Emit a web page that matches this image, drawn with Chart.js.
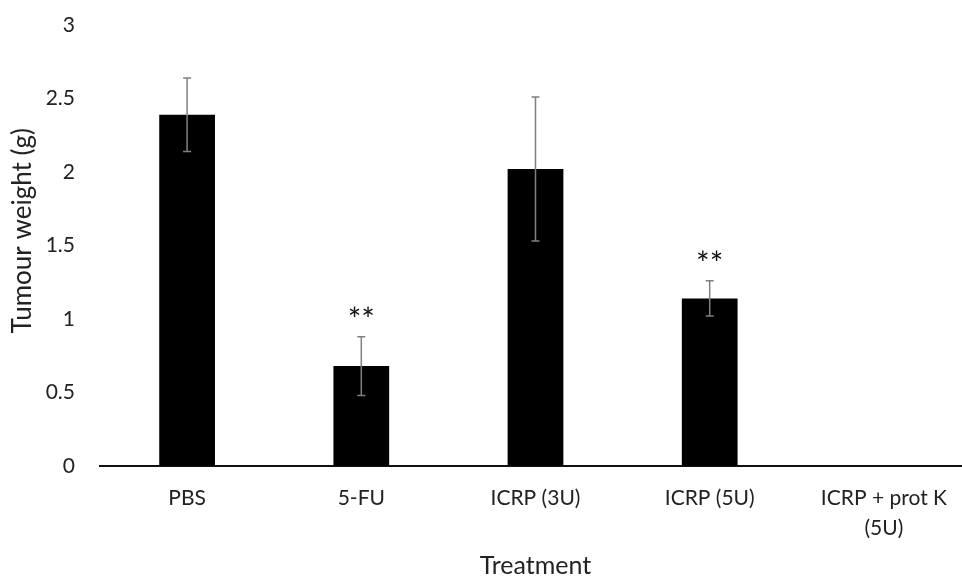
<!DOCTYPE html>
<html>
<head>
<meta charset="utf-8">
<script src="https://cdn.jsdelivr.net/npm/chart.js@4"></script>
<style>
  html, body { margin: 0; padding: 0; background: #fff; overflow: hidden; }
  #wrap { width: 962px; height: 576px; overflow: hidden; }
</style>
</head>
<body>
<div id="wrap"><canvas id="myChart" width="976" height="576"></canvas></div>
<script>
// data
var treatments = ["PBS", "5-FU", "ICRP (3U)", "ICRP (5U)", ["ICRP + prot K", "(5U)"]];
var weights = [2.39, 0.68, 2.02, 1.14, 0];
var errors = [0.25, 0.2, 0.49, 0.12, 0];
var stars = ["", "**", "", "**", ""];
var yTicks = [0, 0.5, 1, 1.5, 2, 2.5, 3];
var yTitle = "Tumour weight (g)";

// error bars, significance marks, y title
var errorBars = {
  id: "errorBars",
  afterDatasetsDraw: function (chart) {
    var ctx = chart.ctx;
    var x = chart.scales.x;
    var y = chart.scales.y;
    ctx.save();
    for (var i = 0; i < weights.length; i++) {
      if (!errors[i]) continue;
      var cx = x.getPixelForValue(i);
      var top = y.getPixelForValue(weights[i] + errors[i]);
      var bot = y.getPixelForValue(weights[i] - errors[i]);
      ctx.strokeStyle = "#808080";
      ctx.lineWidth = 1.5;
      ctx.beginPath();
      ctx.moveTo(cx, top); ctx.lineTo(cx, bot);
      ctx.moveTo(cx - 4, top); ctx.lineTo(cx + 4, top);
      ctx.moveTo(cx - 4, bot); ctx.lineTo(cx + 4, bot);
      ctx.stroke();
      if (stars[i]) {
        ctx.fillStyle = "#111";
        ctx.font = "32px Lato";
        ctx.textAlign = "center";
        ctx.textBaseline = "middle";
        ctx.fillText(stars[i], cx, top - 16);
      }
    }
    // y axis title
    ctx.translate(23, y.getPixelForValue(1.6));
    ctx.rotate(-Math.PI / 2);
    ctx.fillStyle = "#222";
    ctx.font = "26px Lato";
    ctx.textAlign = "center";
    ctx.textBaseline = "middle";
    ctx.fillText(yTitle, 0, 0);
    ctx.restore();
  }
};

var ctx = document.getElementById("myChart").getContext("2d");
var chart = new Chart(ctx, {
  type: "bar",
  data: {
    labels: treatments,
    datasets: [
      {
        label: "Tumour weight",
        data: weights,
        backgroundColor: "#000",
        borderWidth: 0,
        categoryPercentage: 1,
        barPercentage: 0.32,
      },
    ],
  },
  options: {
    responsive: false,
    animation: false,
    layout: { padding: { top: 0, right: 5, left: 8, bottom: 0 } },
    plugins: { legend: { display: false }, tooltip: { enabled: false } },
    scales: {
      x: {
        afterFit: function (scale) { scale.height = 110; },
        grid: { display: false, drawTicks: false },
        border: { color: "#111", width: 2 },
        ticks: { color: "#222", font: { family: "Lato", size: 21, lineHeight: 1.4 }, padding: 18, maxRotation: 0 },
        title: { display: true, text: "Treatment", color: "#222", font: { family: "Lato", size: 25 }, padding: { top: 10, bottom: -5 } },
      },
      y: {
        min: 0,
        max: 3,
        afterBuildTicks: function (scale) {
          scale.ticks = yTicks.map(function (v) { return { value: v }; });
        },
        afterFit: function (scale) {
          scale.width = 92;
          scale.paddingTop = 25;
          scale.paddingBottom = 0;
        },
        grid: { display: false, drawTicks: false },
        border: { display: false },
        ticks: {
          color: "#222",
          font: { family: "Lato", size: 21 },
          padding: 25,
          callback: function (v) { return String(v); },
        },
      },
    },
  },
  plugins: [errorBars],
});
</script>
</body>
</html>
